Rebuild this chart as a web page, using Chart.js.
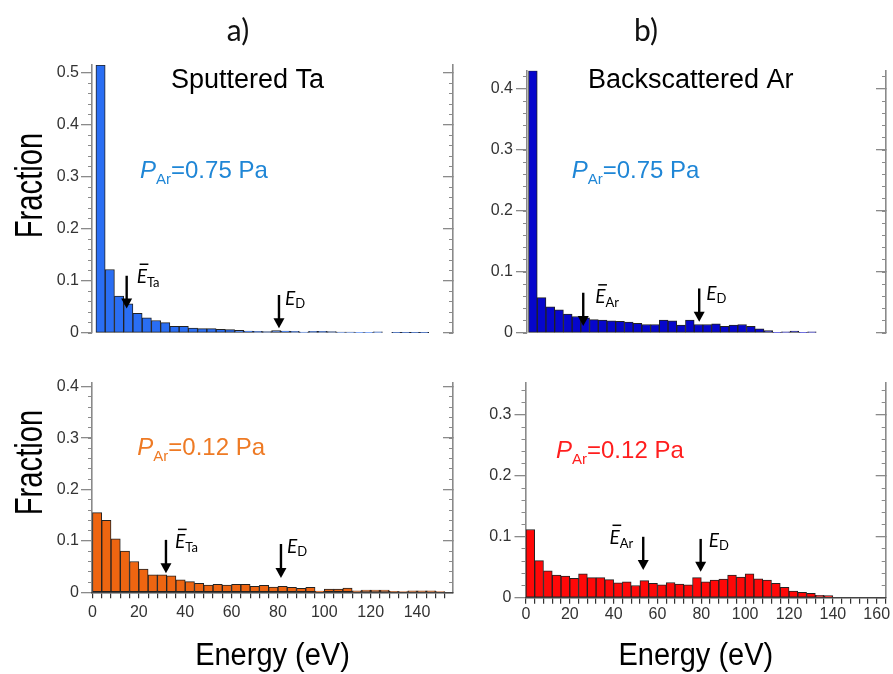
<!DOCTYPE html>
<html>
<head>
<meta charset="utf-8">
<script src="https://cdn.jsdelivr.net/npm/chart.js@4.4.1/dist/chart.umd.min.js"></script>
<style>
  html, body { margin: 0; padding: 0; background: #fff; }
  #wrap { position: relative; width: 893px; height: 674px; }
  #wrap canvas { position: absolute; left: 0; top: 0; }
</style>
</head>
<body>
<div id="wrap">
  <canvas id="cTaHigh" width="893" height="674"></canvas>
  <canvas id="cArHigh" width="893" height="674"></canvas>
  <canvas id="cTaLow" width="893" height="674"></canvas>
  <canvas id="cArLow" width="893" height="674"></canvas>
</div>
<script>
// every histogram uses 4 eV energy bins starting at 0
const binWidth = 4

// fraction per bin
// a) sputtered Ta, P_Ar = 0.75 Pa
const taHigh = [0.515, 0.122, 0.071, 0.056, 0.038, 0.029, 0.024, 0.020, 0.013, 0.013,
  0.0096, 0.0083, 0.0083, 0.0071, 0.0064, 0.0051, 0.0038, 0.0032, 0.0026, 0.0045,
  0.0038, 0.0032, 0.0019, 0.0032, 0.0032, 0.0025, 0.0018, 0.0018, 0.0012, 0.0012,
  0.0022, 0, 0.0008, 0.0008, 0.0008, 0.0008]
// b) backscattered Ar, P_Ar = 0.75 Pa
const arHigh = [0.430, 0.058, 0.043, 0.038, 0.031, 0.027, 0.025, 0.022, 0.021, 0.020,
  0.019, 0.018, 0.016, 0.014, 0.014, 0.021, 0.020, 0.013, 0.021, 0.014,
  0.014, 0.015, 0.011, 0.013, 0.014, 0.011, 0.007, 0.004, 0.001, 0.002,
  0.003, 0.001, 0.002]
// a) sputtered Ta, P_Ar = 0.12 Pa
const taLow = [0.155, 0.140, 0.104, 0.080, 0.060, 0.045, 0.034, 0.034, 0.032, 0.0245,
  0.0207, 0.0175, 0.0142, 0.0155, 0.0142, 0.0155, 0.0155, 0.0117, 0.0136, 0.010,
  0.0117, 0.0097, 0.0078, 0.0097, 0.0025, 0.0064, 0.0064, 0.0084, 0.003, 0.0045,
  0.0045, 0.0045, 0.002, 0.0008, 0.003, 0.003, 0.003, 0.001]
// b) backscattered Ar, P_Ar = 0.12 Pa
const arLow = [0.112, 0.061, 0.044, 0.037, 0.0356, 0.032, 0.039, 0.033, 0.033, 0.0296,
  0.0246, 0.026, 0.020, 0.028, 0.0236, 0.021, 0.025, 0.0225, 0.021, 0.033,
  0.026, 0.029, 0.0307, 0.037, 0.034, 0.039, 0.031, 0.029, 0.0236, 0.017,
  0.011, 0.009, 0.007, 0.004, 0.0035]

// arrow energies (eV): [mean energy, E_D]
const marksTaHigh = [13.3, 79.2]
const marksArHigh = [25.1, 78.3]
const marksTaLow = [31.7, 81.3]
const marksArLow = [53.5, 79.7]

const SANS = "'Liberation Sans', Arial, sans-serif"
const CAL = "Lato, 'Open Sans', sans-serif"
const Y_BOX = 70   // room kept left of the plot for y tick labels
const X_BOX = 40   // room kept under the plot for x tick labels

function drawRich (ctx, x, y, parts) {
  let cx = x
  for (const p of parts) {
    ctx.font = p.font
    ctx.fillText(p.t, cx, y + (p.dy || 0))
    cx += ctx.measureText(p.t).width
  }
  return cx - x
}

function richWidth (ctx, parts) {
  let w = 0
  for (const p of parts) { ctx.font = p.font; w += ctx.measureText(p.t).width }
  return w
}

const deco = {
  id: 'deco',
  afterDraw (chart, args, o) {
    const ctx = chart.ctx
    const xs = chart.scales.x
    const ys = chart.scales.y
    ctx.save()
    ctx.textBaseline = 'alphabetic'

    if (o.header) {
      ctx.fillStyle = '#111'
      ctx.textAlign = 'center'
      ctx.font = '30px ' + CAL
      ctx.fillText(o.header[0], o.header[1], o.header[2])
    }
    if (o.title) {
      ctx.fillStyle = '#000'
      ctx.textAlign = 'center'
      ctx.font = '27px ' + SANS
      ctx.fillText(o.title[0], o.title[1], o.title[2])
    }
    if (o.yTitle) {
      ctx.save()
      ctx.fillStyle = '#000'
      ctx.textAlign = 'center'
      ctx.translate(o.yTitle[0], o.yTitle[1])
      ctx.rotate(-Math.PI / 2)
      ctx.scale(0.77, 1)
      ctx.font = '38px ' + SANS
      ctx.fillText('Fraction', 0, 0)
      ctx.restore()
    }
    if (o.xTitle) {
      ctx.save()
      ctx.fillStyle = '#000'
      ctx.textAlign = 'center'
      ctx.translate(o.xTitle[0], o.xTitle[1])
      ctx.scale(1, 1.1)
      ctx.font = '29px ' + SANS
      ctx.fillText('Energy (eV)', 0, 0)
      ctx.restore()
    }
    if (o.pLabel) {
      ctx.fillStyle = o.pLabel.color
      ctx.textAlign = 'left'
      drawRich(ctx, o.pLabel.x, o.pLabel.y, [
        { t: 'P', font: 'italic 24px ' + SANS },
        { t: 'Ar', font: '15px ' + SANS, dy: 6 },
        { t: o.pLabel.text, font: '24px ' + SANS }
      ])
    }

    ctx.fillStyle = '#000'
    ctx.strokeStyle = '#000'
    ctx.textAlign = 'left'
    for (const a of o.arrows || []) {
      const x = xs.getPixelForValue(a.e)
      const yTop = ys.getPixelForValue(a.top)
      const yTip = ys.getPixelForValue(a.tip)
      const head = 10
      ctx.lineWidth = 2.4
      ctx.beginPath()
      ctx.moveTo(x, yTop)
      ctx.lineTo(x, yTip - head + 1)
      ctx.stroke()
      ctx.beginPath()
      ctx.moveTo(x - 5.5, yTip - head)
      ctx.lineTo(x + 5.5, yTip - head)
      ctx.lineTo(x, yTip)
      ctx.closePath()
      ctx.fill()

      const parts = [
        { t: 'E', font: 'italic 19px ' + CAL },
        { t: a.sub, font: '13px ' + CAL, dy: a.bar ? 4 : 3 }
      ]
      let lx = x + a.dx
      if (a.left) lx = x - a.dx - richWidth(ctx, parts)
      const ly = yTop + a.dy
      drawRich(ctx, lx, ly, parts)
      if (a.bar) {
        ctx.font = 'italic 19px ' + CAL
        const w = ctx.measureText('E').width
        ctx.lineWidth = 1.5
        ctx.beginPath()
        ctx.moveTo(lx + 3, ly - 18.5)
        ctx.lineTo(lx + w + 1.5, ly - 18.5)
        ctx.stroke()
      }
    }
    ctx.restore()
  }
}

function yAxes (yMax, pad) {
  const gray = '#8a8a8a'
  const zero = s => { s.width = 0 }
  return {
    y: {
      position: 'left', weight: 1, min: 0, max: yMax,
      afterFit: s => { s.width = Y_BOX },
      grid: { drawOnChartArea: false, tickLength: 11, color: gray, lineWidth: 1.3 },
      border: { color: gray, width: 1.6 },
      ticks: {
        stepSize: 0.1, includeBounds: false, autoSkip: false, padding: pad,
        color: '#333', font: { family: SANS, size: 16 }
      }
    },
    yMinor: {
      position: 'left', weight: 0, min: 0, max: yMax, afterFit: zero,
      grid: { drawOnChartArea: false, tickLength: 4, color: gray, lineWidth: 1 },
      border: { display: false },
      ticks: { display: false, stepSize: 0.02, includeBounds: false, autoSkip: false }
    },
    yRight: {
      position: 'right', min: 0, max: yMax, afterFit: zero,
      grid: { drawOnChartArea: false, tickLength: -10, color: gray, lineWidth: 1.3 },
      border: { color: gray, width: 1.6 },
      ticks: { display: false, stepSize: 0.1, includeBounds: false, autoSkip: false }
    },
    yRightMinor: {
      position: 'right', min: 0, max: yMax, afterFit: zero,
      grid: { drawOnChartArea: false, tickLength: -4, color: gray, lineWidth: 1 },
      border: { display: false },
      ticks: { display: false, stepSize: 0.02, includeBounds: false, autoSkip: false }
    }
  }
}

function makePanel (p) {
  const pts = p.values.map((v, i) => ({ x: binWidth * (i + 0.5), y: v }))
  const [left, top, right, bottom] = p.area
  const xBox = p.showX ? X_BOX : 0
  const scales = yAxes(p.yMax, p.yPad)
  scales.x = {
    type: 'linear',
    min: p.xRange[0],
    max: p.xRange[1],
    offset: false,
    display: p.showX,
    grid: { offset: false, drawOnChartArea: false, tickLength: 6, color: '#333', lineWidth: 1.2 },
    border: { color: '#444', width: 1.5 },
    ticks: {
      stepSize: binWidth, includeBounds: false, autoSkip: false,
      maxRotation: 0, minRotation: 0, padding: p.xPad,
      color: '#333', font: { family: SANS, size: 16 },
      callback: v => (Math.abs(v % 20) < 1e-6 ? v : '')
    },
    afterFit: s => { s.height = xBox }
  }
  return new Chart(document.getElementById(p.canvas), {
    type: 'bar',
    data: {
      datasets: [{
        data: pts,
        backgroundColor: p.fill,
        borderColor: '#222',
        borderWidth: 1,
        borderSkipped: false,
        barPercentage: 1,
        categoryPercentage: 1
      }]
    },
    options: {
      responsive: false,
      animation: false,
      events: [],
      layout: { padding: { left: left - Y_BOX, top: top, right: 893 - right, bottom: 674 - bottom - xBox } },
      scales: scales,
      plugins: {
        legend: { display: false },
        tooltip: { enabled: false },
        deco: p.deco
      }
    },
    plugins: [deco]
  })
}

makePanel({
  canvas: 'cTaHigh', values: taHigh, fill: '#2a6ef3',
  area: [92, 65, 453, 333], xRange: [-1.7, 154.5], yMax: 0.515, showX: false, xPad: 4, yPad: 2,
  deco: {
    header: ['a)', 238, 41],
    title: ['Sputtered Ta', 247.5, 88],
    yTitle: [41.7, 185.5],
    pLabel: { x: 140, y: 178, text: '=0.75 Pa', color: '#1f86d6' },
    arrows: [
      { e: marksTaHigh[0], top: 0.110, tip: 0.047, sub: 'Ta', bar: true, dx: 10, dy: 7 },
      { e: marksTaHigh[1], top: 0.073, tip: 0.009, sub: 'D', dx: 6, dy: 10 }
    ]
  }
})

makePanel({
  canvas: 'cArHigh', values: arHigh, fill: '#0606cc',
  area: [527, 70.7, 886, 333], xRange: [-0.7, 164.0], yMax: 0.43, showX: false, xPad: 4, yPad: 3,
  deco: {
    header: ['b)', 646, 41],
    title: ['Backscattered Ar', 690.8, 88.3],
    pLabel: { x: 571.7, y: 178.3, text: '=0.75 Pa', color: '#1f86d6' },
    arrows: [
      { e: marksArHigh[0], top: 0.066, tip: 0.0115, sub: 'Ar', bar: true, dx: 12, dy: 10.6 },
      { e: marksArHigh[1], top: 0.073, tip: 0.0185, sub: 'D', dx: 7, dy: 12 }
    ]
  }
})

makePanel({
  canvas: 'cTaLow', values: taLow, fill: '#ee6511',
  area: [92, 382.6, 453, 592.3], xRange: [-0.2, 155.5], yMax: 0.408, showX: true, xPad: 5, yPad: 2,
  deco: {
    yTitle: [41.7, 462.5],
    xTitle: [272.5, 665],
    pLabel: { x: 137.3, y: 455, text: '=0.12 Pa', color: '#ee7a24' },
    arrows: [
      { e: marksTaLow[0], top: 0.102, tip: 0.037, sub: 'Ta', bar: true, dx: 9, dy: 8 },
      { e: marksTaLow[1], top: 0.094, tip: 0.028, sub: 'D', dx: 6, dy: 9 }
    ]
  }
})

makePanel({
  canvas: 'cArLow', values: arLow, fill: '#ff0808',
  area: [525.5, 383, 885.7, 597.7], xRange: [-0.2, 164.1], yMax: 0.3525, showX: true, xPad: 1, yPad: 3,
  deco: {
    xTitle: [695.8, 665],
    pLabel: { x: 556, y: 458.3, text: '=0.12 Pa', color: '#ff1e1e' },
    arrows: [
      { e: marksArLow[0], top: 0.100, tip: 0.0455, sub: 'Ar', bar: true, left: true, dx: 10, dy: 7 },
      { e: marksArLow[1], top: 0.0965, tip: 0.0427, sub: 'D', dx: 8, dy: 8 }
    ]
  }
})
</script>
</body>
</html>
